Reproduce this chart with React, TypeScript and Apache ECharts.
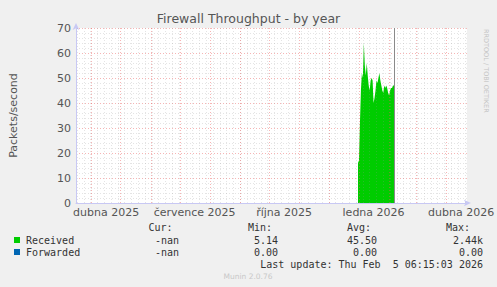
import React, { useEffect, useRef } from "react";
import * as echarts from "echarts";

const DAY = 86400000;
const FONT = "DejaVu Sans";
const MONO = "DejaVu Sans Mono";

// axis span
const axisStart = Date.UTC(2025, 2, 16);
const axisEnd = Date.UTC(2026, 3, 22);

// received packets/second, one value per day from receivedStart
const receivedStart = Date.UTC(2025, 11, 31);
const receivedValues = [
  16, 17, 32, 45, 52, 50, 64, 55, 51, 56, 51, 47, 45, 49, 50, 49, 40, 42, 45,
  49, 48, 50, 52, 49, 47, 45, 44, 47, 46, 47, 46, 44, 43, 45, 46, 46, 47, 47,
];
const lastDataTime = Date.UTC(2026, 1, 6);

// x axis labels (month, label placed mid-month)
const labelMonths: [number, number][] = [
  [2025, 3],
  [2025, 6],
  [2025, 9],
  [2026, 0],
  [2026, 3],
];
const monthLabels = ["dubna 2025", "července 2025", "října 2025", "ledna 2026", "dubna 2026"];

// major vertical grid: month starts
const gridMonths: [number, number][] = [
  [2025, 3], [2025, 4], [2025, 5], [2025, 6], [2025, 7], [2025, 8], [2025, 9],
  [2025, 10], [2025, 11], [2026, 0], [2026, 1], [2026, 2], [2026, 3],
];
const firstMonday = Date.UTC(2025, 2, 17);

// y ticks
const yMin = 0;
const yMax = 70;
const yInterval = 10;

// legend
const legendNames = ["Received", "Forwarded"];
const legendColors = ["#00CC00", "#0066B3"];
const legendCur = ["-nan", "-nan"];
const legendMin = ["5.14", "0.00"];
const legendAvg = ["45.50", "0.00"];
const legendMax = ["2.44k", "0.00"];
const lastUpdate = "Last update: Thu Feb  5 06:15:03 2026";

const MINOR = "rgba(150,150,150,0.26)";
const MAJOR = "rgba(235,90,90,0.45)";

export default function App() {
  const ref = useRef<HTMLDivElement>(null);
  useEffect(() => {
    if (!ref.current) return;
    const chart = echarts.init(ref.current, undefined, { renderer: "svg" });

    const receivedData = receivedValues.map((v, i) => [receivedStart + i * DAY, v]);
    const labelTimes = labelMonths.map(([y, m]) => Date.UTC(y, m, 1) + 15 * DAY);

    const weekLines: any[] = [];
    for (let t = firstMonday; t < axisEnd; t += 7 * DAY) {
      weekLines.push({
        xAxis: t,
        lineStyle: { color: MINOR, type: [1, 2], width: 1 },
      });
    }
    const monthLines = gridMonths.map(([y, m]) => ({
      xAxis: Date.UTC(y, m, 1),
      lineStyle: { color: MAJOR, type: [1, 2], width: 1 },
    }));

    const graphic: any[] = [
      {
        type: "text",
        left: "center",
        top: 12,
        style: { text: "Firewall Throughput - by year", fill: "#555", font: `12.5px "${FONT}"` },
      },
      {
        type: "text",
        x: 489,
        y: 29,
        rotation: -Math.PI / 2,
        style: { text: "RRDTOOL / TOBI OETIKER", fill: "#c4c4c4", font: `6.5px "${FONT}"` },
      },
      {
        type: "text",
        x: 172.5,
        y: 227,
        style: { text: "Cur:", fill: "#333", font: `10px "${MONO}"`, align: "right", verticalAlign: "middle" },
      },
      {
        type: "text",
        x: 272,
        y: 227,
        style: { text: "Min:", fill: "#333", font: `10px "${MONO}"`, align: "right", verticalAlign: "middle" },
      },
      {
        type: "text",
        x: 371,
        y: 227,
        style: { text: "Avg:", fill: "#333", font: `10px "${MONO}"`, align: "right", verticalAlign: "middle" },
      },
      {
        type: "text",
        x: 470,
        y: 227,
        style: { text: "Max:", fill: "#333", font: `10px "${MONO}"`, align: "right", verticalAlign: "middle" },
      },
      {
        type: "text",
        x: 483,
        y: 264,
        style: { text: lastUpdate, fill: "#333", font: `10px "${MONO}"`, align: "right", verticalAlign: "middle" },
      },
      {
        type: "text",
        x: 248,
        y: 276,
        style: { text: "Munin 2.0.76", fill: "#c8c8c8", font: `7.5px "${FONT}"`, align: "center", verticalAlign: "middle" },
      },
    ];
    legendNames.forEach((name, i) => {
      const y = 240 + i * 12;
      graphic.push(
        { type: "rect", shape: { x: 14, y: y - 3, width: 6, height: 6 }, style: { fill: legendColors[i] } },
        { type: "text", x: 26, y, style: { text: name, fill: "#333", font: `10px "${MONO}"`, verticalAlign: "middle" } },
        { type: "text", x: 179, y, style: { text: legendCur[i], fill: "#333", font: `10px "${MONO}"`, align: "right", verticalAlign: "middle" } },
        { type: "text", x: 278, y, style: { text: legendMin[i], fill: "#333", font: `10px "${MONO}"`, align: "right", verticalAlign: "middle" } },
        { type: "text", x: 377, y, style: { text: legendAvg[i], fill: "#333", font: `10px "${MONO}"`, align: "right", verticalAlign: "middle" } },
        { type: "text", x: 483, y, style: { text: legendMax[i], fill: "#333", font: `10px "${MONO}"`, align: "right", verticalAlign: "middle" } }
      );
    });

    chart.setOption({
      animation: false,
      backgroundColor: "#F0F0F0",
      grid: { left: 66, top: 28, width: 402, height: 175, show: true, backgroundColor: "#FFFFFF", borderWidth: 0 },
      xAxis: {
        type: "value",
        min: axisStart,
        max: axisEnd,
        axisLine: {
          lineStyle: { color: "#C8C8F4", width: 1 },
          symbol: ["none", "arrow"],
          symbolSize: [5, 7],
          symbolOffset: [0, 4],
        },
        axisTick: { show: false },
        splitLine: { show: false },
        axisLabel: {
          customValues: labelTimes,
          color: "#555",
          fontSize: 11,
          fontFamily: FONT,
          margin: 4,
          hideOverlap: false,
          showMinLabel: true,
          showMaxLabel: true,
          formatter: (v: number) => {
            const i = labelTimes.findIndex((t) => Math.abs(t - v) < DAY);
            return i >= 0 ? monthLabels[i] : "";
          },
        },
      },
      yAxis: {
        type: "value",
        min: yMin,
        max: yMax,
        interval: yInterval,
        name: "Packets/second",
        nameLocation: "middle",
        nameRotate: 90,
        nameGap: 57,
        nameTextStyle: { color: "#555", fontSize: 11, fontFamily: FONT },
        axisLine: {
          show: true,
          lineStyle: { color: "#C8C8F4", width: 1 },
          symbol: ["none", "arrow"],
          symbolSize: [5, 7],
          symbolOffset: [0, 5],
        },
        axisTick: { show: false },
        axisLabel: { color: "#555", fontSize: 11, fontFamily: FONT, margin: 5 },
        splitLine: { show: true, lineStyle: { color: MAJOR, type: [1, 2], width: 1 } },
        minorTick: { show: false, splitNumber: 5 },
        minorSplitLine: { show: true, lineStyle: { color: MINOR, type: [1, 2], width: 1 } },
      },
      series: [
        {
          name: "grid",
          type: "line",
          data: [],
          z: 1,
          silent: true,
          markLine: {
            silent: true,
            symbol: "none",
            label: { show: false },
            data: [...weekLines, ...monthLines],
          },
        },
        {
          name: "Received",
          type: "line",
          data: receivedData,
          z: 2,
          symbol: "none",
          lineStyle: { width: 0, color: "#00CC00" },
          itemStyle: { color: "#00CC00" },
          areaStyle: { color: "#00CC00", opacity: 1 },
          markLine: {
            silent: true,
            symbol: "none",
            label: { show: false },
            lineStyle: { color: "#8a8a8a", type: "solid", width: 1 },
            data: [{ xAxis: lastDataTime }],
          },
        },
      ],
      graphic,
    });
    return () => chart.dispose();
  }, []);
  return <div ref={ref} style={{ width: 497, height: 287, position: "absolute", left: 0, top: 0 }} />;
}
